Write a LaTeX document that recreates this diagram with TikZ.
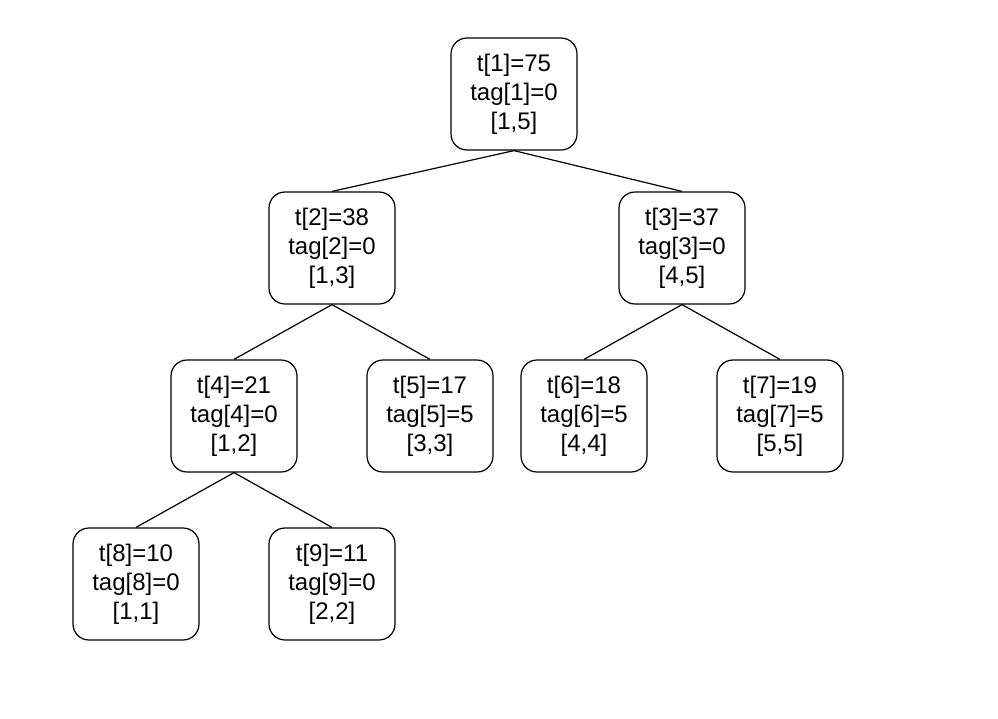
\documentclass[tikz,border=0pt]{standalone}
\usepackage{fontspec}
\setmainfont{Liberation Sans}
\begin{document}
\begin{tikzpicture}[x=1pt,y=-1pt,
  box/.style={draw, line width=1.2pt, rounded corners=16pt, minimum width=126pt, minimum height=112pt,
    align=center, inner sep=0pt, font=\fontsize{24}{29}\selectfont},
  edge/.style={line width=1.2pt}]
\useasboundingbox (0,0) rectangle (998,718);
\fill[white] (0,0) rectangle (998,718);
\node[box] (n1) at (514,94) {t[1]=75\\tag[1]=0\\{}[1,5]};
\node[box] (n2) at (332,248) {t[2]=38\\tag[2]=0\\{}[1,3]};
\node[box] (n3) at (682,248) {t[3]=37\\tag[3]=0\\{}[4,5]};
\node[box] (n4) at (234,416) {t[4]=21\\tag[4]=0\\{}[1,2]};
\node[box] (n5) at (430,416) {t[5]=17\\tag[5]=5\\{}[3,3]};
\node[box] (n6) at (584,416) {t[6]=18\\tag[6]=5\\{}[4,4]};
\node[box] (n7) at (780,416) {t[7]=19\\tag[7]=5\\{}[5,5]};
\node[box] (n8) at (136,584) {t[8]=10\\tag[8]=0\\{}[1,1]};
\node[box] (n9) at (332,584) {t[9]=11\\tag[9]=0\\{}[2,2]};
\draw[edge] (n1.south) -- (n2.north);
\draw[edge] (n1.south) -- (n3.north);
\draw[edge] (n2.south) -- (n4.north);
\draw[edge] (n2.south) -- (n5.north);
\draw[edge] (n3.south) -- (n6.north);
\draw[edge] (n3.south) -- (n7.north);
\draw[edge] (n4.south) -- (n8.north);
\draw[edge] (n4.south) -- (n9.north);
\end{tikzpicture}
\end{document}
